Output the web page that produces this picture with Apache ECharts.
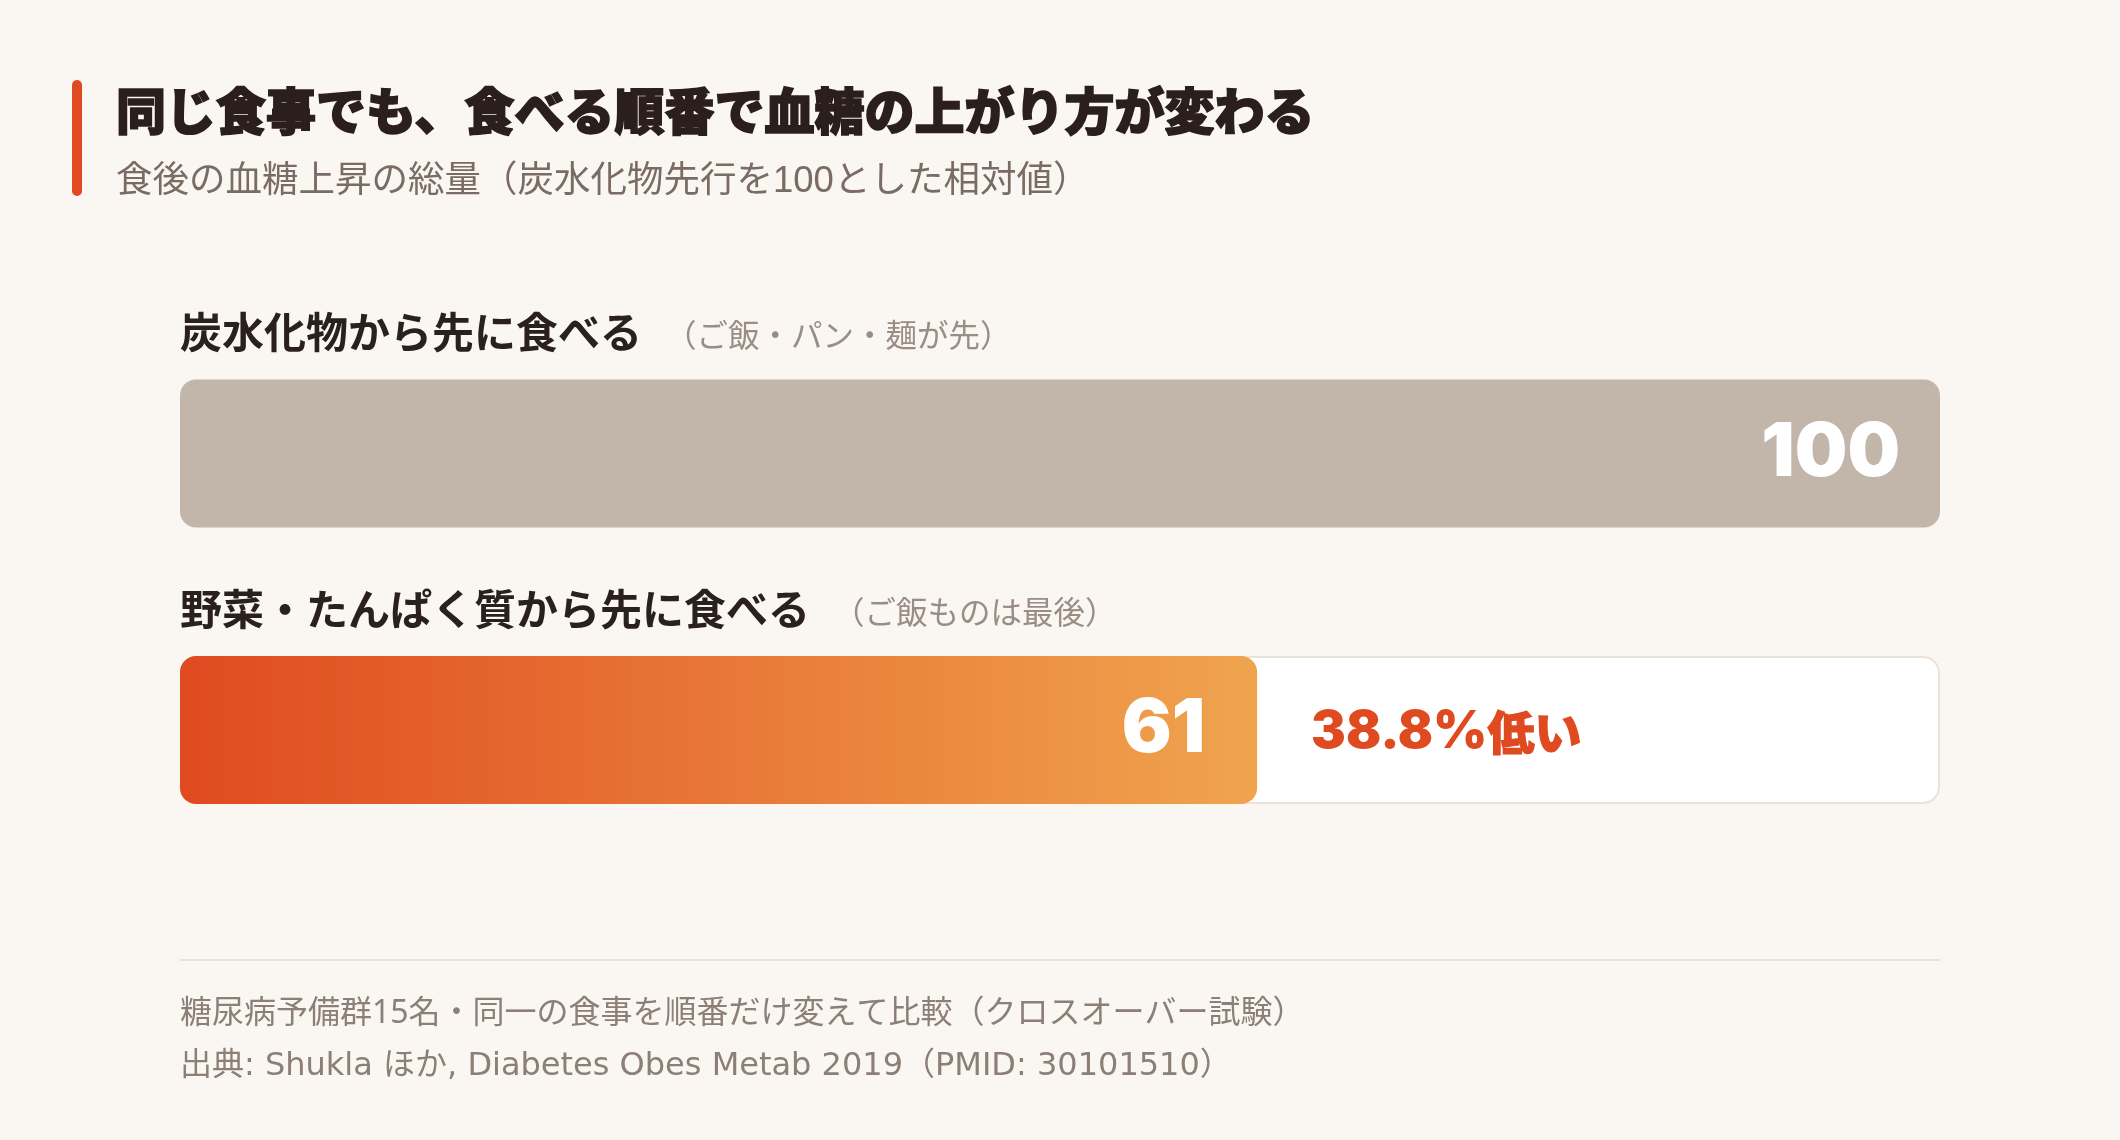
<!DOCTYPE html>
<html>
<head>
<meta charset="utf-8">
<script src="https://cdn.jsdelivr.net/npm/echarts@6/dist/echarts.min.js"></script>
<style>
html,body{margin:0;padding:0;background:#faf7f3;}
#chart{width:2120px;height:1140px;}
</style>
</head>
<body>
<div id="chart"></div>
<script>
// ---- data ----
const titleText = '同じ食事でも、食べる順番で血糖の上がり方が変わる';
const subtitleText = '食後の血糖上昇の総量（炭水化物先行を100とした相対値）';
const categories = ['炭水化物から先に食べる', '野菜・たんぱく質から先に食べる'];
const notes = ['（ご飯・パン・麺が先）', '（ご飯ものは最後）'];
const values = [100, 61.2];
const baseline = 100;
const footnotes = [
  '糖尿病予備群15名・同一の食事を順番だけ変えて比較（クロスオーバー試験）',
  '出典: Shukla ほか, Diabetes Obes Metab 2019（PMID: 30101510）'
];

const JP = '"Noto Sans CJK JP", "Noto Sans", sans-serif';
const MIX = '"Liberation Sans", "Noto Sans CJK JP", sans-serif';
const FOOT1 = '"Noto Sans", "Noto Sans CJK JP", sans-serif';
const FOOT2 = '"DejaVu Sans", "Noto Sans CJK JP", sans-serif';
const NUM = 'Inter, "Noto Sans", sans-serif';

const chart = echarts.init(document.getElementById('chart'), null, {renderer: 'canvas'});

const barColors = [
  '#c2b5a9',
  new echarts.graphic.LinearGradient(0, 0, 1, 0, [
    {offset: 0, color: '#e04a20'},
    {offset: 1, color: '#f0a44e'}
  ])
];
const valueInset = [40, 52];

const option = {
  backgroundColor: '#faf7f3',
  animation: false,
  title: [
    {text: titleText, left: 111, top: 78,
     textStyle: {fontFamily: JP, fontSize: 50, fontWeight: 900, color: '#2a1f1b', lineHeight: 56,
                 textBorderColor: '#2a1f1b', textBorderWidth: 1.6}},
    {text: subtitleText, left: 111, top: 156,
     textStyle: {fontFamily: MIX, fontSize: 36.5, fontWeight: 400, color: '#7a6c62', lineHeight: 42}},
    {text: footnotes[0], left: 175, top: 990,
     textStyle: {fontFamily: FOOT1, fontSize: 32, fontWeight: 400, color: '#8c7f75', lineHeight: 38}},
    {text: footnotes[1], left: 175, top: 1043,
     textStyle: {fontFamily: FOOT2, fontSize: 32, fontWeight: 400, color: '#8c7f75', lineHeight: 38}}
  ],
  graphic: [
    {type: 'rect', shape: {x: 72, y: 80, width: 10, height: 116, r: 5}, style: {fill: '#e04a20'}},
    {type: 'line', shape: {x1: 180, y1: 960, x2: 1940, y2: 960}, style: {stroke: '#e9e1d8', lineWidth: 2}}
  ],
  grid: {left: 180, right: 180, top: 315.25, height: 553, containLabel: false},
  xAxis: {type: 'value', min: 0, max: baseline, show: false},
  yAxis: {type: 'category', data: categories, inverse: true, show: false},
  series: [
    {
      type: 'bar', barWidth: 148, barGap: '-100%', silent: true, z: 1,
      data: values.map((v, i) => ({
        value: baseline,
        itemStyle: i === 0
          ? {color: 'rgba(0,0,0,0)', borderWidth: 0}
          : {color: '#ffffff', borderColor: '#ebe3da', borderWidth: 2, borderRadius: 16}
      })),
      label: {
        show: true, position: [0, -47], align: 'left', verticalAlign: 'middle',
        formatter: p => '{m|' + categories[p.dataIndex] + '}{s|' + notes[p.dataIndex] + '}',
        rich: {
          m: {fontFamily: JP, fontSize: 42, fontWeight: 700, color: '#2a211d'},
          s: {fontFamily: JP, fontSize: 31.5, fontWeight: 400, color: '#9a8d84', padding: [6, 0, 0, 23]}
        }
      }
    },
    {
      type: 'bar', barWidth: 148, barGap: '-100%', silent: true, z: 2,
      data: values.map((v, i) => ({
        value: v,
        itemStyle: {color: barColors[i], borderRadius: 16},
        label: {distance: valueInset[i]}
      })),
      label: {
        show: true, position: 'insideRight', distance: 40,
        formatter: p => String(Math.round(p.value)),
        fontFamily: NUM, fontSize: 74, fontWeight: 900, color: '#ffffff'
      }
    },
    {
      type: 'bar', barWidth: 148, barGap: '-100%', silent: true, z: 3,
      data: values.map(v => (v < baseline ? v : '-')),
      itemStyle: {color: 'rgba(0,0,0,0)'},
      label: {
        show: true, position: 'right', distance: 54, offset: [0, 2],
        formatter: p => '{n|' + ((baseline - p.value) / baseline * 100).toFixed(1) + '%}{j|低い}',
        rich: {
          n: {fontFamily: NUM, fontSize: 52, fontWeight: 900, color: '#e04a20'},
          j: {fontFamily: JP, fontSize: 47, fontWeight: 900, color: '#e04a20',
              textBorderColor: '#e04a20', textBorderWidth: 1.2}
        }
      }
    }
  ]
};
chart.setOption(option);
</script>
</body>
</html>
